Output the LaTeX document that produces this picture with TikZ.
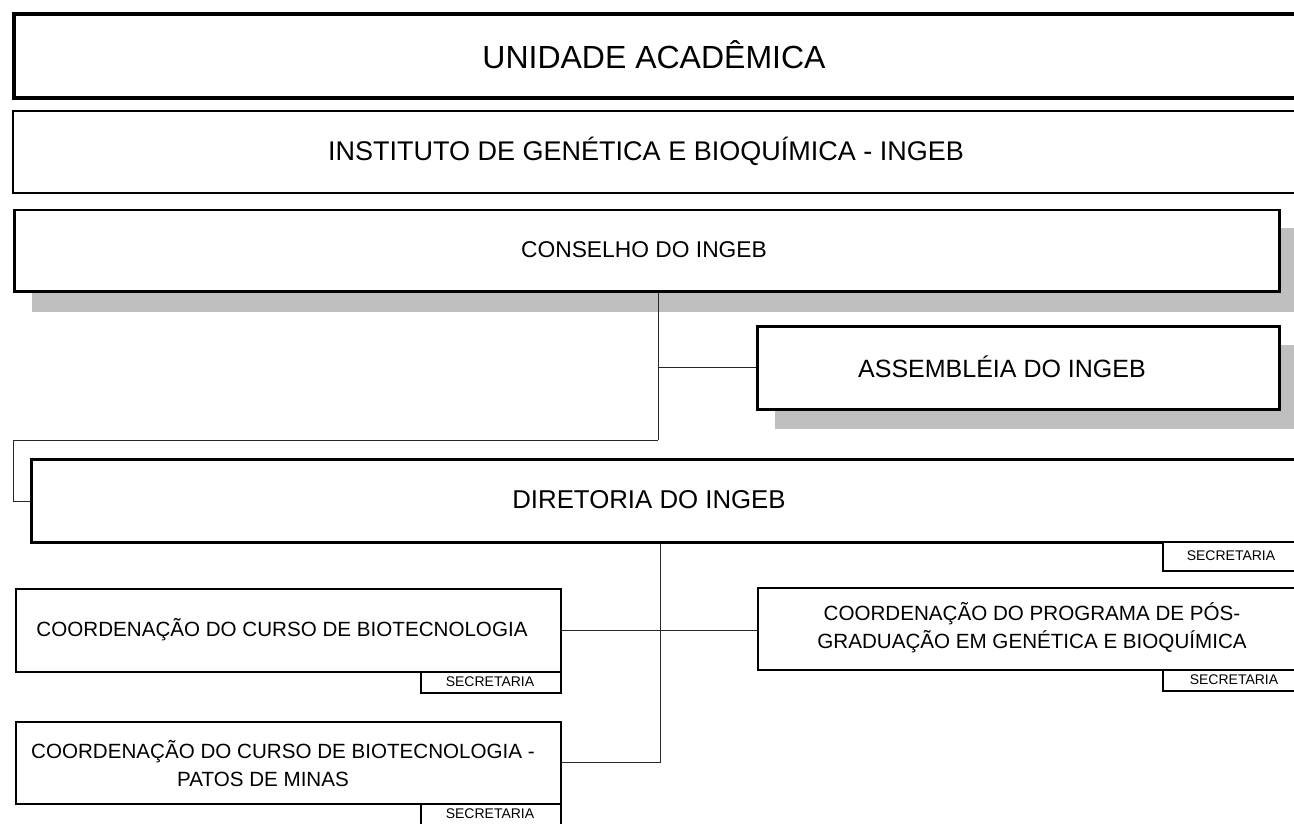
\documentclass[tikz,border=0pt]{standalone}
\usepackage{fontspec}
\setmainfont{Liberation Sans}
\usetikzlibrary{positioning}

\begin{document}
\begin{tikzpicture}[
    x=1pt, y=-1pt,
    box/.style={draw=black, fill=white, rectangle, anchor=north west, inner sep=0pt},
    shade/.style={fill=black!25, draw=none},
    lbl/.style={align=center, inner sep=0pt, font=\fontsize{#1}{28}\selectfont},
    lbl/.default=25,
    link/.style={draw=black!85, line width=1pt},
]
\useasboundingbox (0,0) rectangle (1294,824);
\clip (0,0) rectangle (1294,824);
% ---------- top bands ----------
\node[box, line width=4pt, minimum width=1300pt, minimum height=84pt] (unid) at (12,12) {};
\node[lbl=32] (unidtxt) at (654,55) {UNIDADE ACADÊMICA};
\node[box, line width=2pt, minimum width=1300pt, minimum height=82pt] (inst) at (12,110) {};
\node[lbl=27] (insttxt) at (646,151) {INSTITUTO DE GENÉTICA E BIOQUÍMICA - INGEB};
% ---------- councils (with shadow) ----------
\fill[shade] (32,228) rectangle (1300,312);
\node[box, line width=2.5pt, minimum width=1265pt, minimum height=81pt] (cons) at (13,209) {};
\node[lbl=22.8] (constxt) at (644,250) {CONSELHO DO INGEB};
\fill[shade] (775,345) rectangle (1300,429);
\node[box, line width=2.5pt, minimum width=522pt, minimum height=83pt] (assem) at (756,325) {};
\node[lbl] (assemtxt) at (1002,367) {ASSEMBLÉIA DO INGEB};
% ---------- board ----------
\node[box, line width=3pt, minimum width=1280pt, minimum height=83pt] (dir) at (30,458) {};
\node[lbl=25.8] (dirtxt) at (649,500) {DIRETORIA DO INGEB};
\node[box, line width=2pt, minimum width=140pt, minimum height=29pt] (dirsec) at (1162,541) {};
\node[lbl=14] at (1231,556) {SECRETARIA};
% ---------- coordinations ----------
\node[box, line width=1.8pt, minimum width=545pt, minimum height=83pt] (biot) at (15,588) {};
\node[lbl=20.6] at (282,630) {COORDENAÇÃO DO CURSO DE BIOTECNOLOGIA};
\node[box, line width=1.8pt, minimum width=140pt, minimum height=21pt] (biotsec) at (420,671) {};
\node[lbl=14] at (490,682) {SECRETARIA};
\node[box, line width=1.8pt, minimum width=545pt, minimum height=82pt] (pos) at (757,587) {};
\node[lbl=20.6] at (1032,628) {COORDENAÇÃO DO PROGRAMA DE PÓS-\\GRADUAÇÃO EM GENÉTICA E BIOQUÍMICA};
\node[box, line width=1.8pt, minimum width=140pt, minimum height=21pt] (possec) at (1162,669) {};
\node[lbl=14] at (1234,680) {SECRETARIA};
\node[box, line width=1.8pt, minimum width=545pt, minimum height=82pt] (patos) at (15,721) {};
\node[lbl=20.6] at (283,764) {COORDENAÇÃO DO CURSO DE BIOTECNOLOGIA -\\PATOS DE MINAS\kern40pt};
\node[box, line width=1.8pt, minimum width=140pt, minimum height=21pt] (patossec) at (420,803) {};
\node[lbl=14] at (490,814) {SECRETARIA};
% ===================== LINKS =====================
\coordinate (cbend) at (658,440);
\coordinate (dbend) at (660,760);
\draw[link] (cons.south west -| cbend) -- (cbend);
\draw[link] (assem.west -| cbend) -- (assem.west);
\draw[link] (cbend) -- (13,440) |- (dir.west);
\draw[link] (dir.south west -| dbend) |- (patos.east);
\draw[link] (biot.east) -- (biot.east -| pos.west);
\end{tikzpicture}
\end{document}
